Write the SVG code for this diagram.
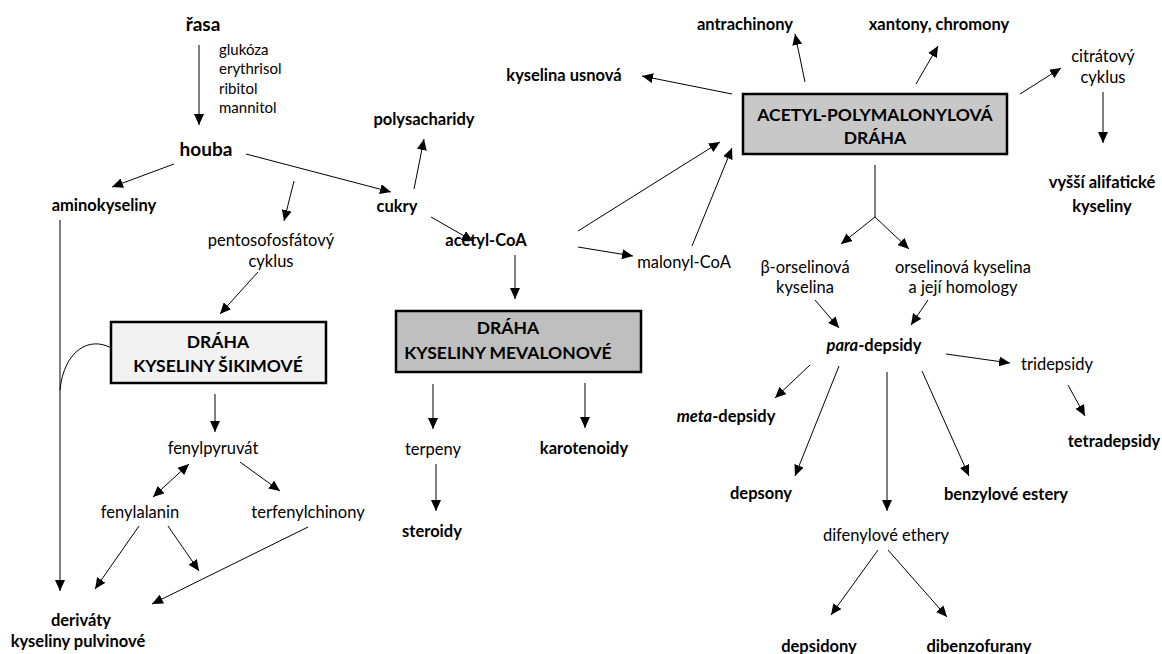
<svg xmlns="http://www.w3.org/2000/svg" width="1162" height="654" viewBox="0 0 1162 654">
<defs>
<marker id="ah" markerUnits="userSpaceOnUse" markerWidth="12" markerHeight="10" refX="11" refY="5" orient="auto">
<path d="M0,0 L11,5 L0,10 Z" fill="#000"/>
</marker>
<marker id="ahs" markerUnits="userSpaceOnUse" markerWidth="12" markerHeight="10" refX="0" refY="5" orient="auto">
<path d="M11,0 L0,5 L11,10 Z" fill="#000"/>
</marker>
<style>
text{font-family:Lato,"Open Sans","Liberation Sans",sans-serif;fill:#000;text-anchor:middle}
.b{font-weight:bold;font-size:16.5px}
.n{font-size:16.5px}
.s{font-size:15px;text-anchor:start}
.big{font-weight:bold;font-size:19px}
.bx{font-weight:bold;font-size:17.5px}
.c line,.c path{stroke:#000;stroke-width:1;fill:none}
.a{marker-end:url(#ah)}
.box{stroke:#000;stroke-width:2.5}
</style>
</defs>
<rect width="1162" height="654" fill="#fff"/>

<g class="c" id="connectors">
<line class="a" x1="199" y1="45" x2="199" y2="125"/>
<line class="a" x1="174" y1="164" x2="112" y2="187"/>
<line class="a" x1="294" y1="181" x2="284" y2="221"/>
<line class="a" x1="258" y1="272" x2="220" y2="314"/>
<line class="a" x1="246" y1="154" x2="391" y2="192"/>
<line class="a" x1="414" y1="189" x2="424" y2="139"/>
<line class="a" x1="431" y1="217" x2="473" y2="241"/>
<line class="a" x1="578" y1="231" x2="720" y2="142"/>
<line class="a" x1="578" y1="247" x2="633" y2="256"/>
<line class="a" x1="692" y1="246" x2="732" y2="148"/>
<line class="a" x1="515" y1="255" x2="515" y2="299"/>
<line class="a" x1="60" y1="220" x2="60" y2="591"/>
<path d="M111,348 C90,336 64,350 60,390"/>
<line class="a" x1="215" y1="394" x2="215" y2="432"/>
<line class="a" x1="189" y1="464" x2="153" y2="497" marker-start="url(#ahs)"/>
<line class="a" x1="240" y1="462" x2="280" y2="491"/>
<line class="a" x1="139" y1="526" x2="95" y2="589"/>
<line class="a" x1="168" y1="526" x2="199" y2="571"/>
<line class="a" x1="308" y1="527" x2="152" y2="604"/>
<line class="a" x1="433" y1="384" x2="433" y2="429"/>
<line class="a" x1="436" y1="464" x2="436" y2="511"/>
<line class="a" x1="585" y1="383" x2="585" y2="428"/>
<line class="a" x1="732" y1="94" x2="642" y2="76"/>
<line class="a" x1="805" y1="82" x2="795" y2="34"/>
<line class="a" x1="916" y1="84" x2="938" y2="46"/>
<line class="a" x1="1020" y1="94" x2="1061" y2="68"/>
<line class="a" x1="1103" y1="92" x2="1103" y2="143"/>
<line x1="875" y1="165" x2="875" y2="217"/>
<line class="a" x1="875" y1="217" x2="841" y2="244"/>
<line class="a" x1="875" y1="217" x2="909" y2="249"/>
<line class="a" x1="815" y1="300" x2="839" y2="328"/>
<line class="a" x1="928" y1="300" x2="911" y2="325"/>
<line class="a" x1="810" y1="365" x2="775" y2="398"/>
<line class="a" x1="839" y1="366" x2="795" y2="476"/>
<line class="a" x1="887" y1="372" x2="887" y2="511"/>
<line class="a" x1="922" y1="371" x2="969" y2="476"/>
<line class="a" x1="946" y1="354" x2="1010" y2="363"/>
<line class="a" x1="1068" y1="385" x2="1085" y2="416"/>
<line class="a" x1="878" y1="550" x2="831" y2="615"/>
<line class="a" x1="888" y1="550" x2="947" y2="617"/>
</g>

<g id="rasa"><text class="big" x="203" y="31">řasa</text></g>
<g id="sugars-label">
<text class="s" x="219" y="55">glukóza</text>
<text class="s" x="219" y="74">erythrisol</text>
<text class="s" x="219" y="94">ribitol</text>
<text class="s" x="219" y="113">mannitol</text>
</g>
<g id="houba"><text class="big" x="206" y="156">houba</text></g>
<g id="aminokyseliny"><text class="b" x="104" y="211">aminokyseliny</text></g>
<g id="pentoso"><text class="n" x="271" y="246">pentosofosfátový</text><text class="n" x="271" y="267">cyklus</text></g>
<g id="cukry"><text class="b" x="397" y="212">cukry</text></g>
<g id="polysacharidy"><text class="b" x="424" y="125">polysacharidy</text></g>
<g id="acetylcoa"><text class="b" x="486" y="246">acetyl-CoA</text></g>
<g id="malonylcoa"><text class="n" x="684" y="268">malonyl-CoA</text></g>

<g id="box-sikimove">
<rect class="box" x="111" y="322" width="215" height="61" fill="#f2f2f2"/>
<text class="bx" x="218" y="348">DRÁHA</text>
<text class="bx" x="218" y="372">KYSELINY ŠIKIMOVÉ</text>
</g>
<g id="box-mevalonove">
<rect class="box" x="396" y="311" width="245" height="61" fill="#bfbfbf"/>
<text class="bx" x="508" y="334">DRÁHA</text>
<text class="bx" x="508" y="359">KYSELINY MEVALONOVÉ</text>
</g>
<g id="box-acetyl">
<rect class="box" x="743" y="94" width="264" height="60" fill="#c8c8c8"/>
<text class="bx" x="875" y="121">ACETYL-POLYMALONYLOVÁ</text>
<text class="bx" x="875" y="144">DRÁHA</text>
</g>

<g id="fenylpyruvat"><text class="n" x="213" y="454">fenylpyruvát</text></g>
<g id="fenylalanin"><text class="n" x="140" y="518">fenylalanin</text></g>
<g id="terfenylchinony"><text class="n" x="308" y="518">terfenylchinony</text></g>
<g id="derivaty"><text class="b" x="81" y="626">deriváty</text><text class="b" x="78" y="647">kyseliny pulvinové</text></g>

<g id="terpeny"><text class="n" x="433" y="455">terpeny</text></g>
<g id="steroidy"><text class="b" x="432" y="537">steroidy</text></g>
<g id="karotenoidy"><text class="b" x="584" y="454">karotenoidy</text></g>

<g id="usnova"><text class="b" x="564" y="81">kyselina usnová</text></g>
<g id="antrachinony"><text class="b" x="745" y="30">antrachinony</text></g>
<g id="xantony"><text class="b" x="939" y="30">xantony, chromony</text></g>
<g id="citratovy"><text class="n" x="1103" y="62">citrátový</text><text class="n" x="1103" y="83">cyklus</text></g>
<g id="vyssi"><text class="b" x="1102" y="188">vyšší alifatické</text><text class="b" x="1102" y="212">kyseliny</text></g>

<g id="beta-orselinova"><text class="n" x="805" y="273">β-orselinová</text><text class="n" x="805" y="293">kyselina</text></g>
<g id="orselinova"><text class="n" x="963" y="273">orselinová kyselina</text><text class="n" x="963" y="293">a její homology</text></g>
<g id="para"><text class="b" x="874" y="351"><tspan font-style="italic">para</tspan>-depsidy</text></g>
<g id="meta"><text class="b" x="726" y="422"><tspan font-style="italic">meta</tspan>-depsidy</text></g>
<g id="depsony"><text class="b" x="761" y="499">depsony</text></g>
<g id="difenylove"><text class="n" x="886" y="541">difenylové ethery</text></g>
<g id="benzylove"><text class="b" x="1006" y="500">benzylové estery</text></g>
<g id="tridepsidy"><text class="n" x="1057" y="370">tridepsidy</text></g>
<g id="tetradepsidy"><text class="b" x="1114" y="447">tetradepsidy</text></g>
<g id="depsidony"><text class="b" x="819" y="652">depsidony</text></g>
<g id="dibenzofurany"><text class="b" x="979" y="652">dibenzofurany</text></g>
</svg>
